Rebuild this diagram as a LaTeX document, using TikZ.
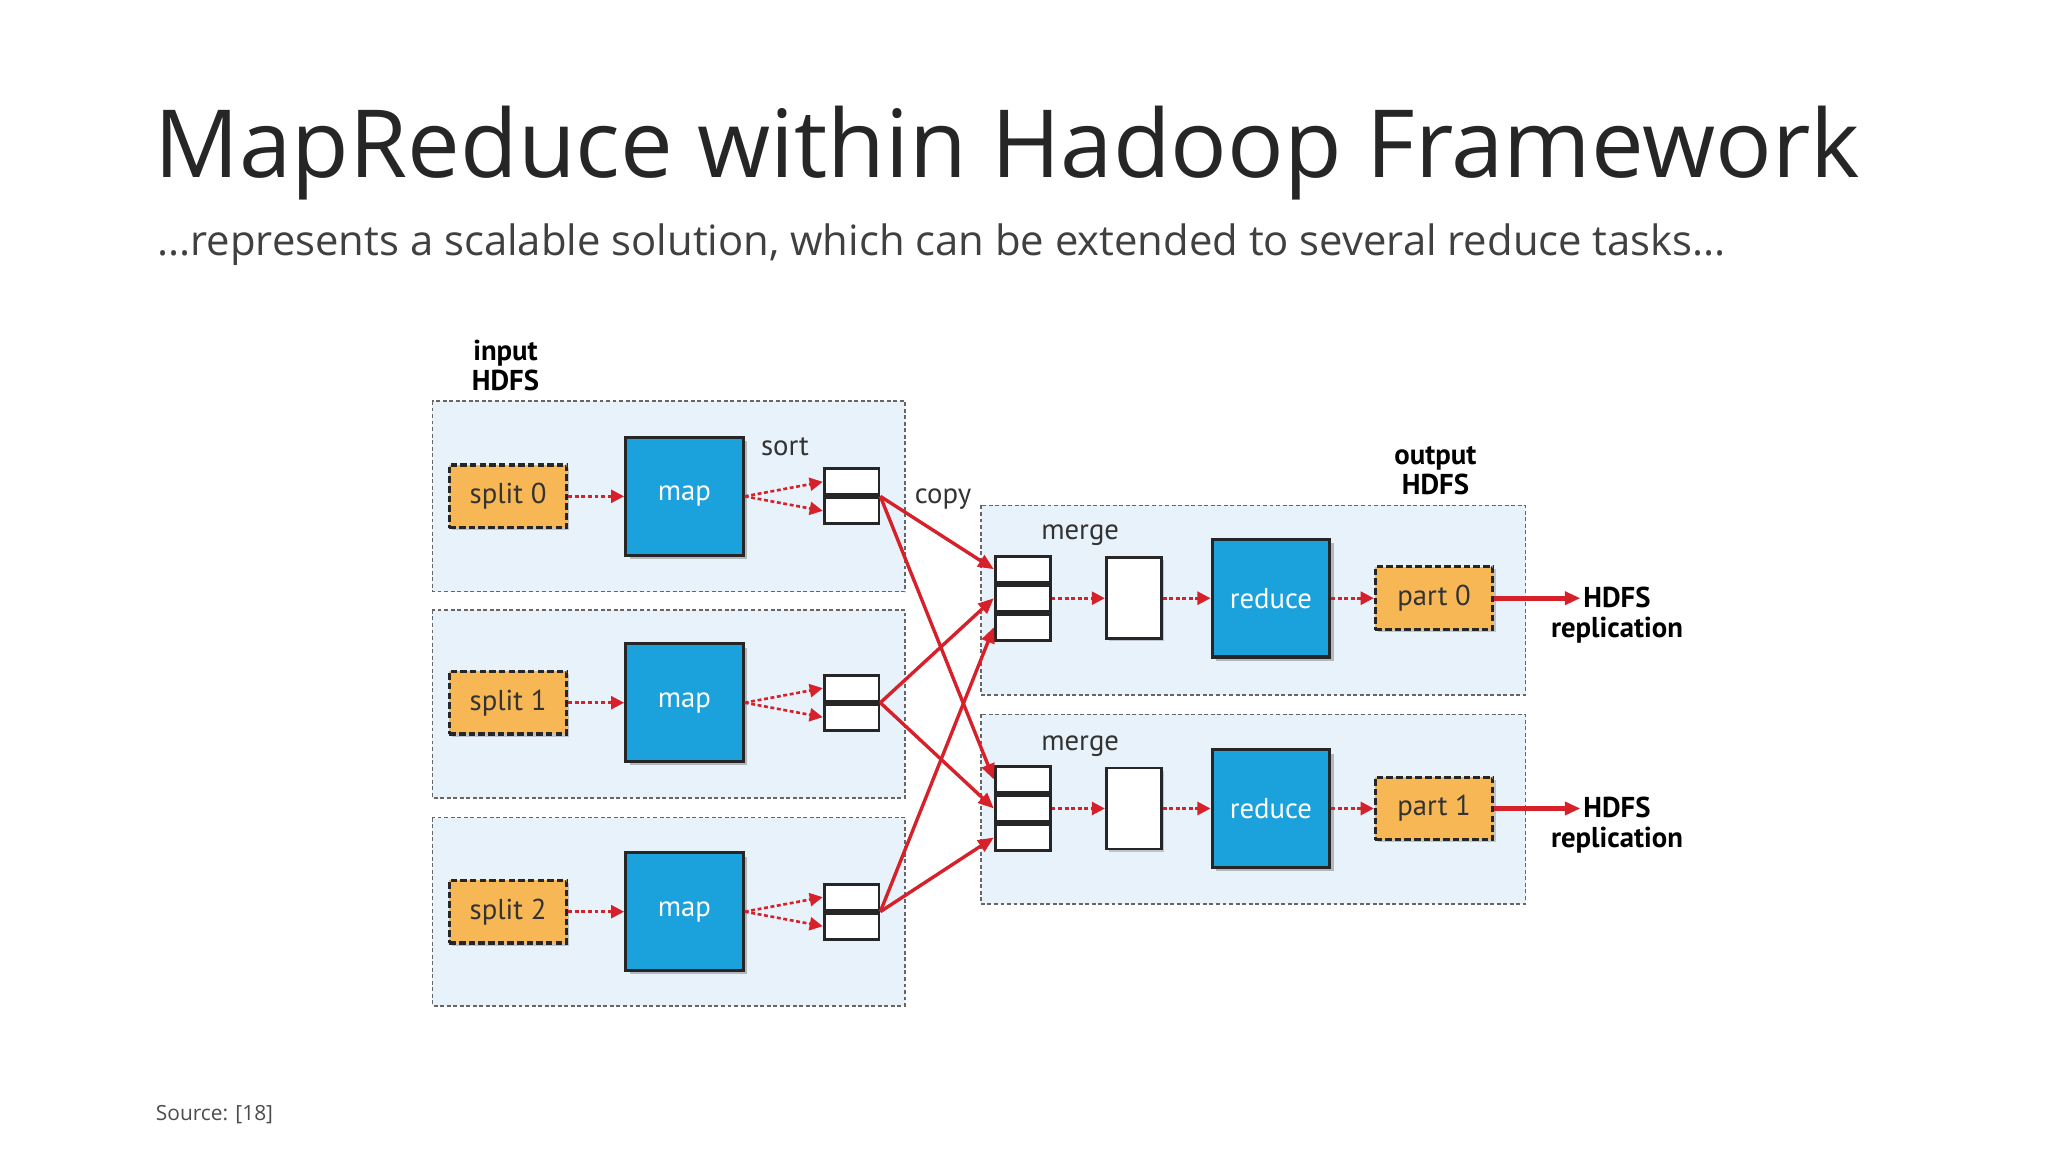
\documentclass[tikz,border=0pt]{standalone}
\usepackage{fontspec}
\setmainfont{Open Sans}
\newfontfamily\dfont{PT Sans}
\usetikzlibrary{arrows.meta,shadows}
\definecolor{pan}{HTML}{E8F2FA}
\definecolor{org}{HTML}{F8B755}
\definecolor{blu}{HTML}{1BA1DB}
\definecolor{rd}{HTML}{D7212A}
\begin{document}
\begin{tikzpicture}[x=0.5pt,y=-0.5pt,
 panel/.style={draw=black!60,dash pattern=on 1.5pt off 1pt,fill=pan,line width=0.6pt},
 split/.style={draw=black!85,fill=org,dash pattern=on 2.5pt off 1.2pt,line width=1.2pt,minimum width=45pt,minimum height=24pt,font=\dfont\fontsize{11}{12}\selectfont,text=black!80,drop shadow={shadow xshift=1pt,shadow yshift=-1pt,opacity=.4}},
 mapb/.style={draw=black!85,fill=blu,line width=1.2pt,minimum width=45pt,minimum height=45pt,font=\dfont\fontsize{11}{12}\selectfont,text=white,drop shadow={shadow xshift=1.5pt,shadow yshift=-1.5pt,opacity=.5}},
 cell/.style={draw=black!85,fill=white,line width=1.1pt,minimum width=21pt,minimum height=10pt,inner sep=0},
 wbox/.style={draw=black!85,fill=white,line width=1.1pt,minimum width=21pt,minimum height=31pt,drop shadow={shadow xshift=1pt,shadow yshift=-1pt,opacity=.4}},
 dot/.style={rd,line width=1pt,dash pattern=on 1.5pt off 1pt,-{Triangle[length=5pt,width=5pt]}},
 sol/.style={rd,line width=1.3pt,-{Triangle[length=6pt,width=5pt]}},
 lab/.style={font=\dfont\fontsize{11}{12}\selectfont,text=black!80},
 blab/.style={font=\dfont\bfseries\fontsize{11}{11.5}\selectfont,align=center}]
\useasboundingbox (0,0) rectangle (1568,882);
\node[anchor=base west,font=\fontsize{36}{40}\selectfont,text=black!85,inner sep=0] (title) at (118,136) {MapReduce within Hadoop Framework};
\node[anchor=base west,font=\fontsize{16}{18}\selectfont,text=black!75,inner sep=0] (sub) at (120,196) {...represents a scalable solution, which can be extended to several reduce tasks...};
\node[anchor=base west,font=\fontsize{8}{9}\selectfont,text=black!70,inner sep=0] (src) at (119,858) {Source: [18]};
% panels
\foreach \i/\a/\b in {1/307/453,2/467/611,3/626/770}{
 \draw[panel] (331,\a) rectangle (693,\b);}
\foreach \a/\b in {387/532,547/692}{
 \draw[panel] (751,\a) rectangle (1168,\b);}
\node[blab] (inhdfs) at (387,280) {input\\HDFS};
\node[blab] (outhdfs) at (1099,360) {output\\HDFS};
\node[lab] (sortl) at (601,342) {sort};
\node[lab] (copyl) at (722,382) {copy};
\node[lab] (merge1l) at (827,410) {merge};
\node[lab] (merge2l) at (827,571) {merge};
% map side
\foreach \i/\y in {0/380,1/538,2/698}{
 \node[split] (s\i) at (389,\y) {split \i};
 \node[mapb] (m\i) at (524,\y) {map};
 \node[cell,anchor=south] (b\i a) at (652,\y) {};
 \node[cell,anchor=north] (b\i b) at (652,\y) {};
 \coordinate (b\i) at (674,\y);
 \draw[dot] (s\i) -- (m\i);
 \draw[dot] (m\i.east) -- (b\i a.west);
 \draw[dot] (m\i.east) -- (b\i b.west);
}
% reduce side
\foreach \j/\y in {0/458,1/619}{
 \node[cell,anchor=center] (r\j b) at (783,\y) {};
 \node[cell,anchor=south] (r\j a) at (r\j b.north) {};
 \node[cell,anchor=north] (r\j c) at (r\j b.south) {};
 \node[wbox] (w\j) at (868,\y) {};
 \node[mapb] (rd\j) at (973,\y) {reduce};
 \node[split] (p\j) at (1098,\y) {part \j};
 \node[blab] (h\j) at (1238,\y+13) {HDFS\\replication};
 \coordinate (e\j) at (1210,\y);
 \draw[dot] (r\j b.east) -- (w\j);
 \draw[dot] (w\j) -- (rd\j);
 \draw[dot] (rd\j) -- (p\j);
 \draw[sol,line width=1.8pt] (p\j) -- (e\j);
}
\foreach \i/\c in {0/a,1/b,2/c}{
 \draw[sol] (b\i) -- (r0\c.west);
 \draw[sol] (b\i) -- (r1\c.west);
}
\end{tikzpicture}
\end{document}
